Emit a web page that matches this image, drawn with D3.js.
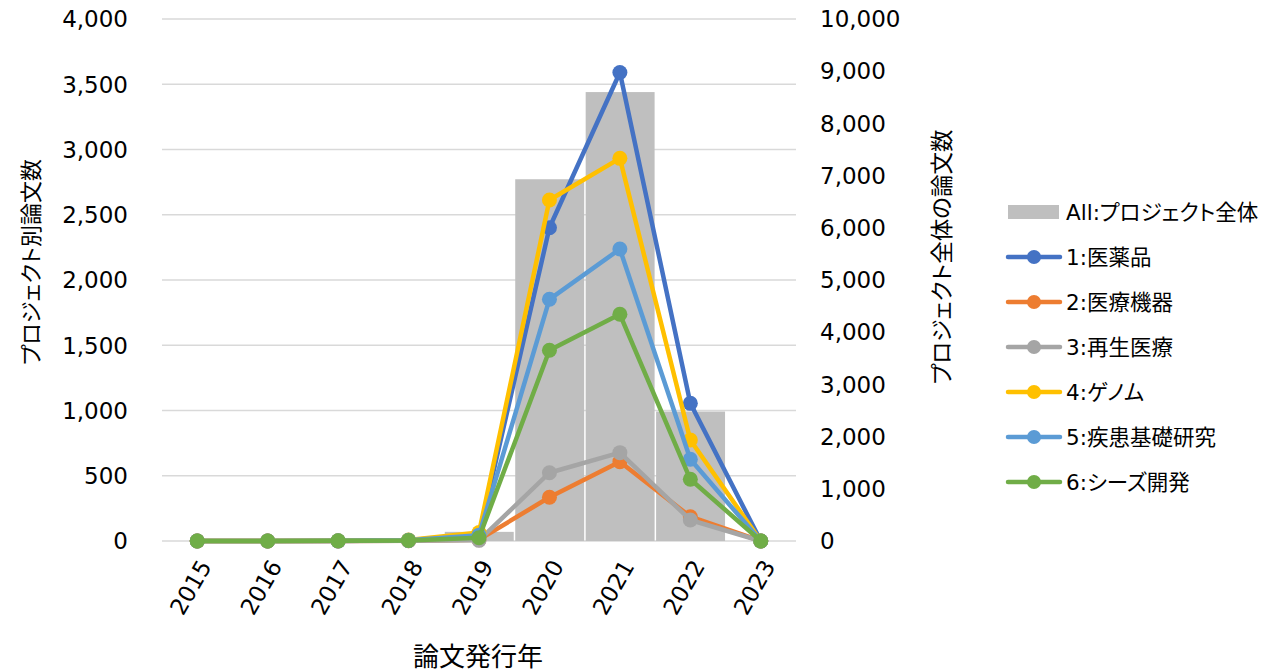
<!DOCTYPE html>
<html><head><meta charset="utf-8">
<script src="https://cdn.jsdelivr.net/npm/d3@7"></script>
<style>
html,body{margin:0;padding:0;background:#fff;}
svg text{font-family:"DejaVu Sans","Noto Sans CJK JP",sans-serif;fill:#000;font-feature-settings:"palt";}
</style></head>
<body><svg id="c" width="1281" height="672"></svg>
<script>
const years = ["2015","2016","2017","2018","2019","2020","2021","2022","2023"];
const totalAll = [0, 0, 0, 0, 175, 6930, 8600, 2480, 0];
const seriesNames = ["1:医薬品","2:医療機器","3:再生医療","4:ゲノム","5:疾患基礎研究","6:シーズ開発"];
const s1 = [0, 0, 0, 5, 50, 2400, 3590, 1055, 0];
const s2 = [0, 0, 0, 2, 10, 335, 608, 186, 0];
const s3 = [0, 0, 0, 2, 5, 523, 677, 161, 0];
const s4 = [0, 0, 2, 8, 65, 2613, 2932, 774, 0];
const s5 = [0, 0, 1, 5, 45, 1852, 2237, 626, 0];
const s6 = [0, 0, 1, 4, 25, 1462, 1737, 473, 0];
const leftTicks = [0,500,1000,1500,2000,2500,3000,3500,4000];
const rightTicks = [0,1000,2000,3000,4000,5000,6000,7000,8000,9000,10000];
const colors = ["#4472C4","#ED7D31","#A5A5A5","#FFC000","#5B9BD5","#70AD47"];
const barColor = "#BFBFBF";
const allName = "All:プロジェクト全体";

const svg = d3.select("#c");
const x = d3.scaleBand().domain(years).range([162, 796]).paddingInner(0).paddingOuter(0);
const yL = d3.scaleLinear().domain([0,4000]).range([541,19]);
const yR = d3.scaleLinear().domain([0,10000]).range([541,19]);
const fmt = d3.format(",");

// gridlines
svg.append("g").selectAll("line").data(leftTicks).join("line")
  .attr("x1",162).attr("x2",796).attr("y1",d=>yL(d)).attr("y2",d=>yL(d))
  .attr("stroke","#D9D9D9").attr("stroke-width",1.5);

// bars (secondary axis)
const bw = x.bandwidth();
svg.append("g").selectAll("rect").data(totalAll).join("rect")
  .attr("x",(d,i)=>x(years[i])+1).attr("width",bw-1.5)
  .attr("y",d=>yR(d)).attr("height",d=>yR(0)-yR(d)).attr("fill",barColor);

// lines
const all = [s1,s2,s3,s4,s5,s6];
const cx = (i)=>x(years[i])+bw/2;
const line = d3.line().x((d,i)=>cx(i)).y(d=>yL(d));
all.forEach((s,k)=>{
  const g = svg.append("g");
  g.append("path").attr("d",line(s)).attr("fill","none").attr("stroke",colors[k])
    .attr("stroke-width",4.5).attr("stroke-linejoin","round").attr("stroke-linecap","round");
  g.selectAll("circle").data(s).join("circle").attr("cx",(d,i)=>cx(i)).attr("cy",d=>yL(d))
    .attr("r",7.5).attr("fill",colors[k]);
});

// left axis labels
svg.append("g").selectAll("text").data(leftTicks).join("text")
  .attr("x",128).attr("y",d=>yL(d)).attr("dy","0.36em").attr("text-anchor","end")
  .style("font-size","23px").text(d=>fmt(d));
// right axis labels
svg.append("g").selectAll("text").data(rightTicks).join("text")
  .attr("x",820).attr("y",d=>yR(d)).attr("dy","0.36em").attr("text-anchor","start")
  .style("font-size","23px").text(d=>fmt(d));
// x labels
svg.append("g").selectAll("text").data(years).join("text")
  .attr("transform",d=>`translate(${x(d)+bw/2+8},562) rotate(-60)`)
  .attr("dy","0.36em").attr("text-anchor","end").style("font-size","23px").text(d=>d);

// titles
svg.append("text").attr("x",478).attr("y",666).attr("text-anchor","middle")
  .style("font-size","26px").text("論文発行年");
svg.append("text").attr("transform","translate(31,262) rotate(-90)").attr("dy","0.36em")
  .attr("text-anchor","middle").style("font-size","22px").text("プロジェクト別論文数");
svg.append("text").attr("transform","translate(942,257) rotate(-90)").attr("dy","0.36em")
  .attr("text-anchor","middle").style("font-size","22.5px").text("プロジェクト全体の論文数");

// legend
const lg = svg.append("g");
const ly0 = 212, lstep = 45;
lg.append("rect").attr("x",1008).attr("y",ly0-7).attr("width",51).attr("height",14).attr("fill",barColor);
lg.append("text").attr("x",1066).attr("y",ly0).attr("dy","0.36em").style("font-size","21.5px").text(allName);
seriesNames.forEach((n,k)=>{
  const yy = ly0 + lstep*(k+1);
  lg.append("line").attr("x1",1008).attr("x2",1060).attr("y1",yy).attr("y2",yy)
    .attr("stroke",colors[k]).attr("stroke-width",4.5).attr("stroke-linecap","round");
  lg.append("circle").attr("cx",1034).attr("cy",yy).attr("r",7).attr("fill",colors[k]);
  lg.append("text").attr("x",1066).attr("y",yy).attr("dy","0.36em").style("font-size","21.5px").text(n);
});
</script></body></html>
